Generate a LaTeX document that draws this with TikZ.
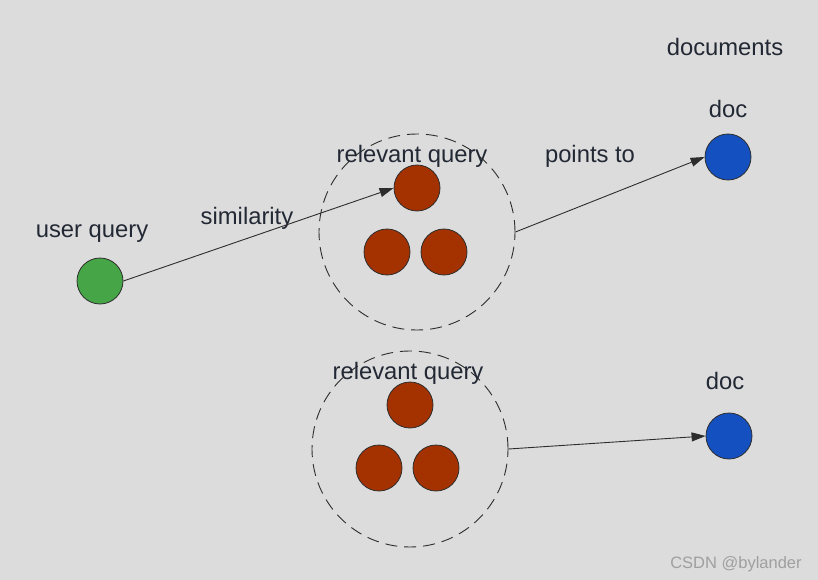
\documentclass[tikz,border=0pt]{standalone}
\usepackage{fontspec}
\setmainfont{Liberation Sans}
\usetikzlibrary{arrows.meta}
\definecolor{bg}{RGB}{220,220,220}
\definecolor{txt}{RGB}{34,40,52}
\definecolor{qgreen}{RGB}{70,165,70}
\definecolor{qred}{RGB}{163,50,0}
\definecolor{dblue}{RGB}{20,80,192}
\definecolor{edge}{RGB}{45,45,45}
\tikzset{
  dot/.style={circle, draw=edge, line width=0.8pt, minimum size=46pt, inner sep=0pt},
  grp/.style={circle, draw=edge, line width=0.9pt, dash pattern=on 12pt off 7pt, minimum size=196pt, inner sep=0pt},
  lbl/.style={text=txt, font=\fontsize{23.8}{28}\selectfont, inner sep=0pt},
  conn/.style={draw=edge, line width=0.9pt, -{Triangle[length=14pt,width=9pt]}}
}
\begin{document}
\begin{tikzpicture}[x=1pt,y=-1pt]
\fill[bg] (0,0) rectangle (818,580);
\useasboundingbox (0,0) rectangle (818,580);
% groups
\node[grp] (grp1) at (417,232) {};
\node[grp] (grp2) at (410,449) {};
% dots
\node[dot, fill=qgreen] (user) at (100,281) {};
\node[dot, fill=qred] (r1) at (417,188) {};
\node[dot, fill=qred] (r2) at (387,252) {};
\node[dot, fill=qred] (r3) at (444,252) {};
\node[dot, fill=qred] (r4) at (410,405) {};
\node[dot, fill=qred] (r5) at (379,468) {};
\node[dot, fill=qred] (r6) at (436,468) {};
\node[dot, fill=dblue] (doc1) at (728,157) {};
\node[dot, fill=dblue] (doc2) at (729,436) {};
% labels
\node[lbl] (tdocs) at (725,47) {documents};
\node[lbl] (tdoc1) at (728,109) {doc};
\node[lbl] (trel1) at (412,156) {relevant query};
\node[lbl] (tpts) at (590,156) {points to};
\node[lbl] (tsim) at (247,218) {similarity};
\node[lbl] (tuser) at (92,234) {user query};
\node[lbl] (trel2) at (408,373) {relevant query};
\node[lbl] (tdoc2) at (725,381) {doc};
\node[text=gray!75, font=\fontsize{16.5}{19}\selectfont, inner sep=0pt] (wm) at (736,564) {CSDN @bylander};
% connectors
\draw[conn] (user.east) -- (r1.west);
\draw[conn] (grp1.east) -- (doc1.west);
\draw[conn] (grp2.east) -- (doc2.west);
\end{tikzpicture}
\end{document}
